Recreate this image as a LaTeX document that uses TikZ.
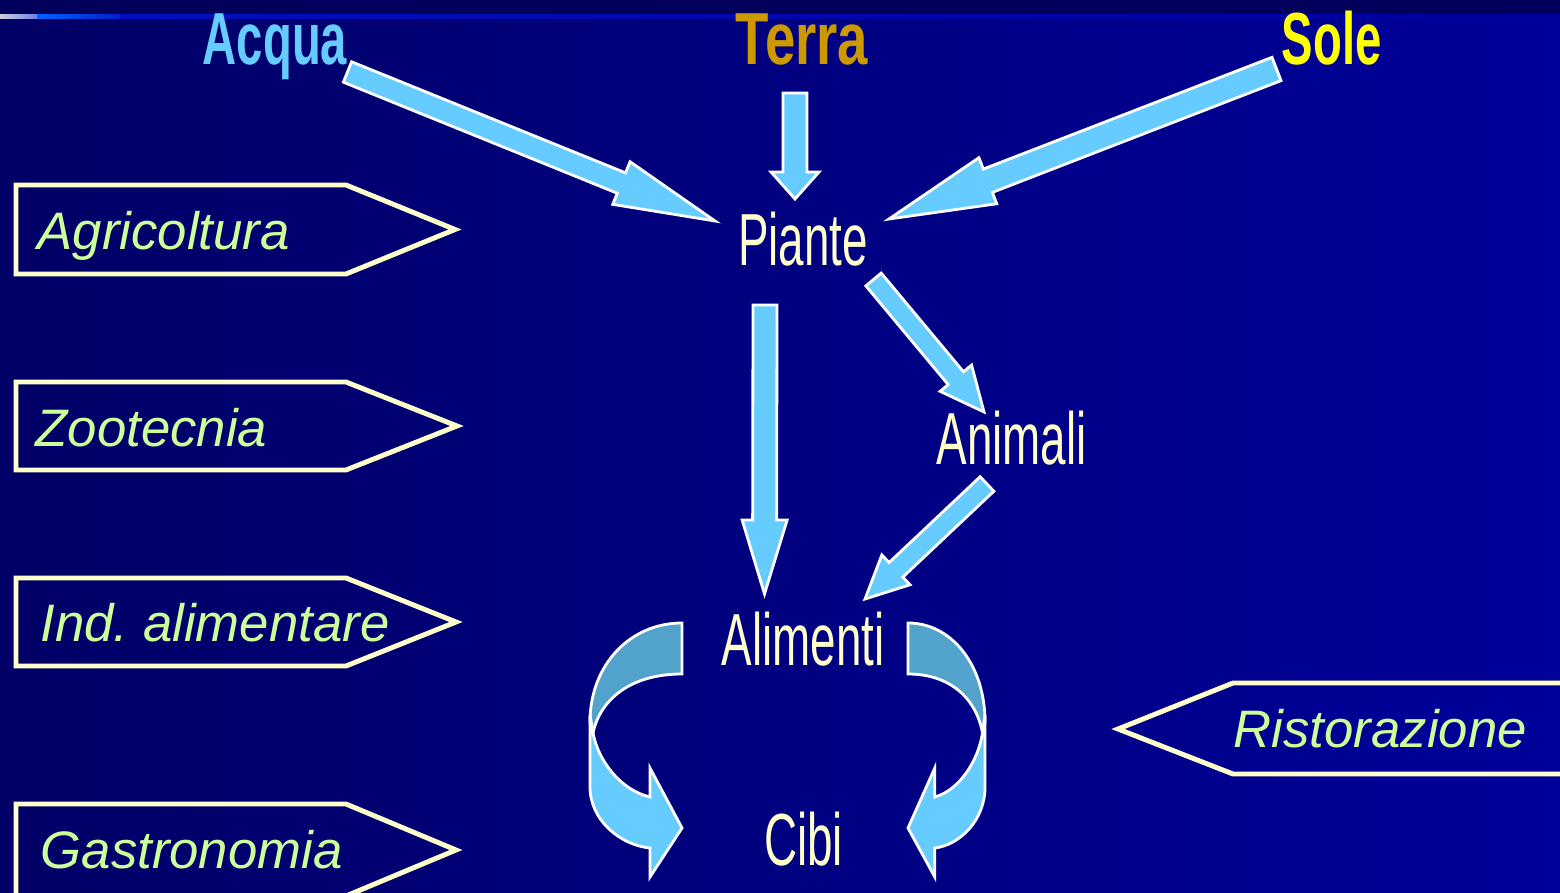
\documentclass[tikz,border=0pt]{standalone}
\usepackage{fontspec}
\usetikzlibrary{calc}
\setmainfont{Liberation Sans}
\newfontfamily\condfont[FakeStretch=0.62]{Liberation Sans}
\newfontfamily\condboldfont[FakeStretch=0.64]{Liberation Sans}
\newfontfamily\condwidefont[FakeStretch=0.74]{Liberation Sans}
\frenchspacing

\definecolor{bgl}{HTML}{000066}
\definecolor{bgr}{HTML}{00009A}
\definecolor{topband}{HTML}{00005C}
\definecolor{cream}{HTML}{FFFFCC}
\definecolor{leaf}{HTML}{CCFF99}
\definecolor{sky}{HTML}{66CCFF}
\definecolor{skydark}{HTML}{52A3CC}
\definecolor{water}{HTML}{66CCFF}
\definecolor{earth}{HTML}{CC9900}
\definecolor{sun}{HTML}{FFFF00}

\tikzset{
  bigword/.style={font=\condfont\fontsize{21}{25}\selectfont, text=cream, anchor=base, inner sep=0pt},
  headword/.style={font=\condboldfont\bfseries\fontsize{21}{25}\selectfont, anchor=base, inner sep=0pt},
  headwide/.style={headword, font=\condwidefont\bfseries\fontsize{21}{25}\selectfont},
  signlabel/.style={font=\itshape\fontsize{15}{18}\selectfont, text=leaf, anchor=base west, inner sep=0pt},
  signbox/.style={draw=cream, line width=1.4pt, line join=miter},
  flowarrow/.style={fill=sky, draw=white, line width=0.8pt, line join=miter},
  backface/.style={fill=skydark, draw=white, line width=0.8pt, line join=miter},
}

% block arrow: tail, tip, half shaft width, half head width, head length
\newcommand\blockarrow[5]{%
  \coordinate (ba-base) at ($(#2)!#5!(#1)$);
  \draw[flowarrow] ($(#1)!#3!90:(#2)$) -- ($(ba-base)!#3!90:(#2)$)
    -- ($(ba-base)!#4!90:(#2)$) -- (#2) -- ($(ba-base)!#4!-90:(#2)$)
    -- ($(ba-base)!#3!-90:(#2)$) -- ($(#1)!#3!-90:(#2)$) -- cycle;
}

% twisted curved arrow, drawn with its inner edge at x=0
\newcommand\curvedarrow{%
  \draw[backface] (0,-6.23) .. controls (-0.52,-6.23) and (-0.92,-6.65) .. (-0.92,-7.22)
    -- (-0.89,-7.33) .. controls (-0.82,-7.00) and (-0.52,-6.74) .. (0,-6.74) -- cycle;
  \draw[flowarrow] (-0.92,-7.15) -- (-0.92,-7.87)
    .. controls (-0.92,-8.20) and (-0.62,-8.45) .. (-0.32,-8.48)
    -- (-0.32,-8.77) -- (0,-8.28) -- (-0.32,-7.68) -- (-0.32,-7.97)
    .. controls (-0.62,-7.90) and (-0.84,-7.60) .. (-0.89,-7.33) -- cycle;
}

\begin{document}
\begin{tikzpicture}
\useasboundingbox (0,0) rectangle (15.6,-8.93);
\clip (0,0) rectangle (15.6,-8.93);

% background
\shade[left color=bgl, right color=bgr] (0,0) rectangle (15.6,-8.93);
\fill[topband] (0,0) rectangle (15.6,-0.16);
\shade[left color={rgb,255:red,205;green,205;blue,220}, right color={rgb,255:red,110;green,130;blue,235}] (0,-0.15) rectangle (0.37,-0.19);
\shade[left color={rgb,255:red,0;green,100;blue,255}, right color={rgb,255:red,0;green,30;blue,200}] (0.37,-0.15) rectangle (1.2,-0.19);
\shade[left color={rgb,255:red,0;green,15;blue,190}, right color=bgr] (1.2,-0.15) rectangle (15.6,-0.19);

% sources
\node[headword, text=water] (acqua) at (2.75,-0.65) {Acqua};
\node[headwide, text=earth] (terra) at (8.02,-0.65) {Terra};
\node[headword, text=sun]   (sole)  at (13.315,-0.65) {Sole};

% chain
\node[bigword] (piante)   at (8.03,-2.66) {Piante};
\node[bigword] (animali)  at (10.115,-4.65) {Animali};
\node[bigword] (alimenti) at (8.03,-6.65) {Alimenti};
\node[bigword] (cibi)     at (8.035,-8.65) {Cibi};

% arrow end points
\coordinate (acqua-out)   at (3.475,-0.72);
\coordinate (piante-w)    at (7.15,-2.21);
\coordinate (terra-out)   at (7.95,-0.93);
\coordinate (piante-n)    at (7.95,-1.99);
\coordinate (sole-out)    at (12.765,-0.69);
\coordinate (piante-e)    at (8.89,-2.19);
\coordinate (piante-s)    at (7.65,-3.05);
\coordinate (alimenti-n)  at (7.645,-5.94);
\coordinate (piante-se)   at (8.735,-2.795);
\coordinate (animali-nw)  at (9.84,-4.12);
\coordinate (animali-sw)  at (9.87,-4.84);
\coordinate (alimenti-ne) at (8.65,-5.99);

\blockarrow{acqua-out}{piante-w}{0.11cm}{0.23cm}{1.01cm}
\blockarrow{terra-out}{piante-n}{0.12cm}{0.24cm}{0.27cm}
\blockarrow{sole-out}{piante-e}{0.125cm}{0.247cm}{1.06cm}
\blockarrow{piante-s}{alimenti-n}{0.12cm}{0.225cm}{0.74cm}
\blockarrow{piante-se}{animali-nw}{0.10cm}{0.205cm}{0.44cm}
\blockarrow{animali-sw}{alimenti-ne}{0.10cm}{0.205cm}{0.425cm}

% Alimenti -> Cibi
\begin{scope}[shift={(6.82,0)}]
  \curvedarrow
\end{scope}
\begin{scope}[shift={(9.08,0)}, xscale=-0.837]
  \curvedarrow
\end{scope}

% sectors
\draw[signbox] (0.16,-1.85) -- (3.46,-1.85) -- (4.55,-2.295) -- (3.46,-2.74) -- (0.16,-2.74) -- cycle;
\draw[signbox] (0.16,-3.82) -- (3.46,-3.82) -- (4.57,-4.26) -- (3.46,-4.70) -- (0.16,-4.70) -- cycle;
\draw[signbox] (0.16,-5.78) -- (3.46,-5.78) -- (4.56,-6.22) -- (3.46,-6.66) -- (0.16,-6.66) -- cycle;
\draw[signbox] (0.16,-8.04) -- (3.46,-8.04) -- (4.56,-8.50) -- (3.46,-8.96) -- (0.16,-8.96) -- cycle;
\draw[signbox] (15.8,-6.83) -- (12.33,-6.83) -- (11.18,-7.29) -- (12.33,-7.74) -- (15.8,-7.74);

\node[signlabel] (agri)   at (0.37,-2.50) {Agricoltura};
\node[signlabel] (zoo)    at (0.35,-4.465) {Zootecnia};
\node[signlabel] (ind)    at (0.40,-6.42) {Ind. alimentare};
\node[signlabel] (gastro) at (0.40,-8.68) {Gastronomia};
\node[signlabel] (risto)  at (12.33,-7.47) {Ristorazione};
\end{tikzpicture}
\end{document}
